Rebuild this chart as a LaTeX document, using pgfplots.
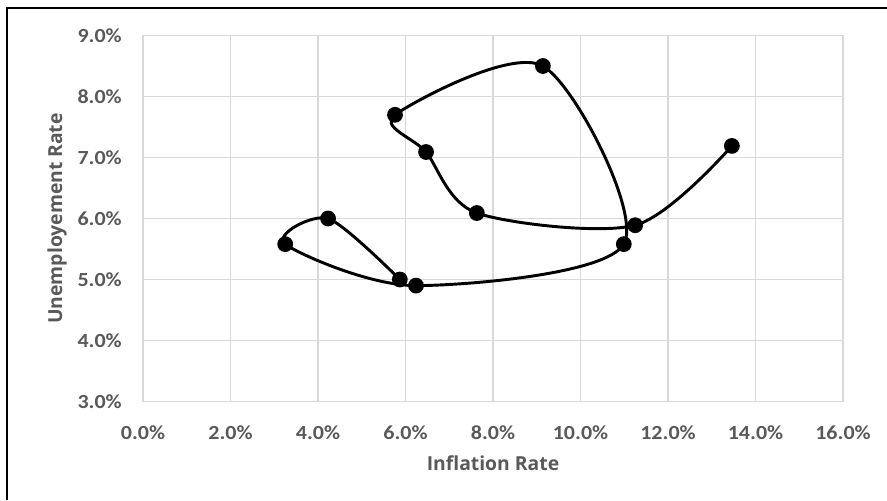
\documentclass[border=0pt]{standalone}
\usepackage{pgfplots}
\pgfplotsset{compat=1.18}
\usepackage{fontspec}
\setmainfont{Liberation Serif}
\newfontfamily\tickfont[FakeStretch=1.1]{Carlito}
\newfontfamily\labelfont{Open Sans}
\definecolor{txtgray}{HTML}{595959}
\definecolor{gridgray}{HTML}{D9D9D9}
\begin{document}
\begin{tikzpicture}
\useasboundingbox (0,0) rectangle (665.25pt,-375pt);
\draw[black, line width=1.6pt] (5.25pt,-375pt) -- (5.25pt,-6pt) -- (665.25pt,-6pt);
\begin{axis}[
  at={(107.25pt,-301.125pt)}, anchor=south west,
  scale only axis, width=525pt, height=274.5pt,
  xmin=0, xmax=16, ymin=3, ymax=9,
  xtick={0,2,...,16}, ytick={3,4,...,9},
  grid=major, grid style={gridgray, line width=1.1pt},
  axis line style={gridgray, line width=1.1pt},
  major tick length=0pt,
  tick label style={font=\tickfont\bfseries\fontsize{15}{18}\selectfont, text=txtgray},
  /pgf/number format/assume math mode=true,
  xticklabel={\pgfmathprintnumber[fixed,fixed zerofill,precision=1]{\tick}\%},
  yticklabel={\pgfmathprintnumber[fixed,fixed zerofill,precision=1]{\tick}\%},
  xticklabel style={anchor=north, inner sep=0pt, yshift=-17.6pt},
  yticklabel style={anchor=east, inner sep=0pt, xshift=-15.75pt},
  xlabel={Inflation Rate}, ylabel={Unemployement Rate},
  label style={font=\labelfont\bfseries\fontsize{14.5}{17}\selectfont, text=txtgray, inner sep=0pt},
  xlabel style={at={(axis description cs:0.5,-0.18716)}, anchor=base},
  ylabel style={at={(axis description cs:-0.12286,0.5)}, anchor=center},
]
\addplot[black, line width=2.2pt, smooth, tension=0.5, mark=*, mark size=4.8pt, mark options={solid, fill=black}] coordinates {
(5.87,5.00) (4.23,6.00) (3.25,5.58) (6.24,4.90) (10.99,5.58) (9.14,8.50) (5.76,7.70) (6.47,7.09) (7.63,6.09) (11.25,5.89) (13.46,7.19)};
\end{axis}
\end{tikzpicture}
\end{document}
